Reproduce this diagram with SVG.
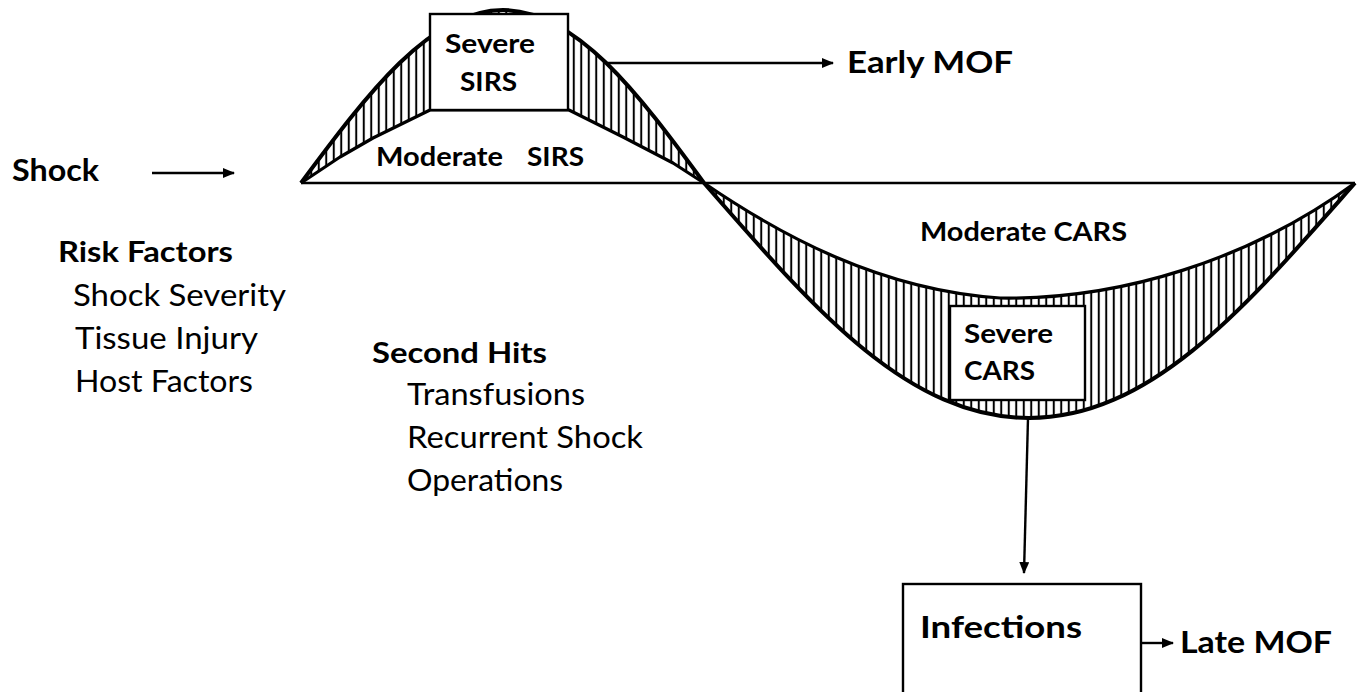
<svg xmlns="http://www.w3.org/2000/svg" width="1361" height="692" viewBox="0 0 1361 692">
<style>
text{font-family:Lato,"Open Sans","Liberation Sans",sans-serif;fill:#000}
.b{font-weight:700}
.curve{fill:none;stroke:#000;stroke-width:4;stroke-linejoin:round}
.inner{fill:none;stroke:#000;stroke-width:3.2;stroke-linejoin:round}
.box{fill:#fff;stroke:#000;stroke-width:2.4}
.conn{fill:none;stroke:#000;stroke-width:2.4}
</style>
<defs>
<pattern id="hatch" patternUnits="userSpaceOnUse" width="7.5" height="10">
<rect width="7.5" height="10" fill="#fff"/>
<line x1="3.75" y1="0" x2="3.75" y2="10" stroke="#000" stroke-width="2"/>
</pattern>
<marker id="ah" markerWidth="12" markerHeight="10" refX="11" refY="5" orient="auto" markerUnits="userSpaceOnUse">
<path d="M0,0 L12,5 L0,10 Z" fill="#000"/>
</marker>
</defs>
<rect width="1361" height="692" fill="#fff"/>

<g id="sirs-wave">
<path d="M301,183 C366.9,94.4 429.9,10 503,10 C576.1,10 639.1,94.4 704,183 L673,163 L623,137 L569,110 L430,110 L373,138 L340,157 Z" fill="url(#hatch)" stroke="none"/>
<path class="curve" d="M301,183 C366.9,94.4 429.9,10 503,10 C576.1,10 639.1,94.4 704,183"/>
<path class="inner" d="M301,183 L340,157 L373,138 L430,110 L569,110 L623,137 L673,163 L704,183"/>
</g>

<g id="cars-wave">
<path d="M704,183 C809,303 905,418 1029,418 C1153,418 1249,303 1355,183 C1250,260 1120,300 1000,298 C880,290 780,235 704,183 Z" fill="url(#hatch)" stroke="none"/>
<path class="curve" d="M704,183 C809,303 905,418 1029,418 C1153,418 1249,303 1355,183"/>
<path class="inner" d="M704,183 C780,235 880,290 1000,298 C1120,300 1250,260 1355,183"/>
</g>

<g id="baseline">
<line x1="301" y1="183" x2="1355" y2="183" stroke="#000" stroke-width="2.4"/>
</g>

<g id="moderate-sirs">
<text class="b" font-size="27" y="166"><tspan x="376" textLength="127" lengthAdjust="spacingAndGlyphs">Moderate</tspan><tspan x="527" textLength="57" lengthAdjust="spacingAndGlyphs">SIRS</tspan></text>
</g>

<g id="severe-sirs">
<rect class="box" x="430" y="14" width="138" height="96"/>
<text class="b" font-size="27" x="445" y="53" textLength="90" lengthAdjust="spacingAndGlyphs">Severe</text>
<text class="b" font-size="27" x="460" y="91" textLength="57" lengthAdjust="spacingAndGlyphs">SIRS</text>
</g>

<g id="moderate-cars">
<text class="b" font-size="27" x="920" y="241" textLength="207" lengthAdjust="spacingAndGlyphs">Moderate CARS</text>
</g>

<g id="severe-cars">
<rect class="box" x="950" y="306" width="135" height="94"/>
<text class="b" font-size="27" x="964" y="343" textLength="89" lengthAdjust="spacingAndGlyphs">Severe</text>
<text class="b" font-size="27" x="964" y="380" textLength="71" lengthAdjust="spacingAndGlyphs">CARS</text>
</g>

<g id="shock">
<text class="b" font-size="31" x="12" y="181" textLength="87" lengthAdjust="spacingAndGlyphs">Shock</text>
</g>

<g id="risk-factors">
<text class="b" font-size="29" x="58" y="262" textLength="175" lengthAdjust="spacingAndGlyphs">Risk Factors</text>
<text font-size="31" x="73" y="306" textLength="213" lengthAdjust="spacingAndGlyphs">Shock Severity</text>
<text font-size="31" x="75" y="349" textLength="183" lengthAdjust="spacingAndGlyphs">Tissue Injury</text>
<text font-size="31" x="75" y="392" textLength="178" lengthAdjust="spacingAndGlyphs">Host Factors</text>
</g>

<g id="second-hits">
<text class="b" font-size="29" x="372" y="363" textLength="175" lengthAdjust="spacingAndGlyphs">Second Hits</text>
<text font-size="31" x="407" y="405" textLength="178" lengthAdjust="spacingAndGlyphs">Transfusions</text>
<text font-size="31" x="407" y="448" textLength="236" lengthAdjust="spacingAndGlyphs">Recurrent Shock</text>
<text font-size="31" x="407" y="491" textLength="156" lengthAdjust="spacingAndGlyphs">Operations</text>
</g>

<g id="early-mof">
<text class="b" font-size="31" x="847" y="73" textLength="166" lengthAdjust="spacingAndGlyphs">Early MOF</text>
</g>

<g id="infections">
<rect class="box" x="903" y="584" width="238" height="160"/>
<text class="b" font-size="31" x="920" y="638" textLength="162" lengthAdjust="spacingAndGlyphs">Infections</text>
</g>

<g id="late-mof">
<text class="b" font-size="31" x="1180" y="653" textLength="152" lengthAdjust="spacingAndGlyphs">Late MOF</text>
</g>

<g id="connectors">
<line class="conn" x1="152" y1="173" x2="234" y2="173" marker-end="url(#ah)"/>
<line class="conn" x1="608" y1="63" x2="833" y2="63" marker-end="url(#ah)"/>
<line class="conn" x1="1028" y1="418" x2="1024" y2="573" marker-end="url(#ah)"/>
<line class="conn" x1="1141" y1="643" x2="1173" y2="643" marker-end="url(#ah)"/>
</g>
</svg>
